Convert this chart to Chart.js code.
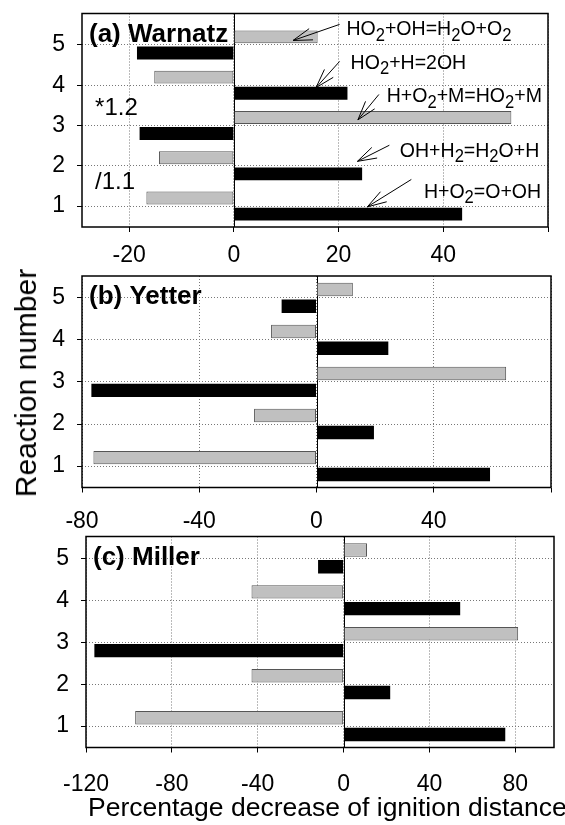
<!DOCTYPE html>
<html lang="en">
<head>
    <meta charset="UTF-8">
    <title>Reaction sensitivity</title>
    <script src="https://cdn.jsdelivr.net/npm/chart.js"></script>
    <style>
        body {
            margin: 0;
            padding: 0;
            background-color: #fff;
            font-family: 'Liberation Sans', Arial, sans-serif;
        }
        .page {
            position: relative;
            width: 565px;
            height: 825px;
            overflow: hidden;
        }
        .page canvas {
            position: absolute;
            left: 0;
        }
        .y-title {
            position: absolute;
            left: 26px;
            top: 383px;
            transform: translate(-50%, -50%) rotate(-90deg);
            font-size: 30px;
            white-space: nowrap;
            color: #000;
        }
        .x-title {
            position: absolute;
            left: 88px;
            top: 792px;
            font-size: 26.5px;
            white-space: nowrap;
            color: #000;
        }
    </style>
</head>
<body>
    <div class="page">
        <canvas id="chartA" width="565" height="268" style="top:0px"></canvas>
        <canvas id="chartB" width="565" height="275" style="top:262px"></canvas>
        <canvas id="chartC" width="565" height="270" style="top:522px"></canvas>
        <div class="y-title">Reaction number</div>
        <div class="x-title">Percentage decrease of ignition distance</div>
    </div>

    <script>
        // reaction numbers and the two series per mechanism (gray = upper bar, black = lower bar)
        const reactions = [1, 2, 3, 4, 5];
        const warnatzGray = [-16.7, -14.3, 53.0, -15.2, 16.0];
        const warnatzBlack = [43.6, 24.5, -18.0, 21.7, -18.5];
        const yetterGray = [-76.1, -21.3, 64.7, -15.5, 12.4];
        const yetterBlack = [59.2, 19.6, -76.8, 24.5, -11.9];
        const millerGray = [-97.1, -42.9, 81.3, -42.9, 10.9];
        const millerBlack = [75.3, 21.7, -116.1, 54.3, -11.9];

        // reaction labels in panel (a): text anchor and arrow, in data units
        const warnatzNotes = [
            { text: 'HO_2+OH=H_2O+O_2', x: 21.5, y: 5.24, from: [20.2, 5.51], to: [11.3, 5.11] },
            { text: 'HO_2+H=2OH', x: 22.3, y: 4.41, from: [20.2, 4.59], to: [15.7, 3.94] },
            { text: 'H+O_2+M=HO_2+M', x: 29.2, y: 3.58, from: [27.7, 3.77], to: [23.7, 3.14] },
            { text: 'OH+H_2=H_2O+H', x: 31.7, y: 2.22, from: [29.7, 2.51], to: [23.6, 2.11] },
            { text: 'H+O_2=O+OH', x: 36.3, y: 1.21, from: [33.9, 1.66], to: [25.5, 0.98] }
        ];
        const warnatzFactors = [
            { text: '*1.2', x: -26.5, y: 3.25 },
            { text: '/1.1', x: -26.5, y: 1.43 }
        ];

        const FONT = "'Liberation Sans', Arial, sans-serif";
        Chart.defaults.font.family = FONT;
        Chart.defaults.color = '#000';

        function drawRich(ctx, str, x, y, size, sx) {
            ctx.save();
            ctx.translate(x, y);
            ctx.scale(sx, 1);
            ctx.textBaseline = 'alphabetic';
            ctx.textAlign = 'left';
            let cx = 0;
            str.split(/(_\d)/).forEach(part => {
                if (!part) return;
                if (part[0] === '_') {
                    ctx.font = (size * 0.85) + 'px ' + FONT;
                    ctx.fillText(part.slice(1), cx, size * 0.26);
                    cx += ctx.measureText(part.slice(1)).width;
                } else {
                    ctx.font = size + 'px ' + FONT;
                    ctx.fillText(part, cx, 0);
                    cx += ctx.measureText(part).width;
                }
            });
            ctx.restore();
        }

        function drawArrow(ctx, x1, y1, x2, y2) {
            const ang = Math.atan2(y1 - y2, x1 - x2);
            const len = 20, spread = 0.3;
            ctx.beginPath();
            ctx.moveTo(x1, y1);
            ctx.lineTo(x2, y2);
            ctx.moveTo(x2 + len * Math.cos(ang - spread), y2 + len * Math.sin(ang - spread));
            ctx.lineTo(x2, y2);
            ctx.lineTo(x2 + len * Math.cos(ang + spread), y2 + len * Math.sin(ang + spread));
            ctx.stroke();
        }

        // zero line, frame, panel title and notes
        const panelDecor = {
            id: 'panelDecor',
            beforeDatasetsDraw(chart) {
                const { ctx, chartArea: a, scales: { x } } = chart;
                const x0 = Math.round(x.getPixelForValue(0)) + 0.5;
                ctx.save();
                ctx.strokeStyle = '#000';
                ctx.lineWidth = 1;
                ctx.beginPath();
                ctx.moveTo(x0, a.top);
                ctx.lineTo(x0, a.bottom);
                ctx.stroke();
                ctx.restore();
            },
            afterDatasetsDraw(chart, args, opts) {
                const { ctx, chartArea: a, scales: { x, y } } = chart;
                ctx.save();
                ctx.strokeStyle = '#000';
                ctx.lineWidth = 1.5;
                ctx.strokeRect(a.left, a.top, a.right - a.left, a.bottom - a.top);

                ctx.fillStyle = '#000';
                ctx.font = 'bold 26px ' + FONT;
                ctx.textBaseline = 'alphabetic';
                ctx.fillText(opts.title, a.left + 7, a.top + 28);

                (opts.factors || []).forEach(f => {
                    ctx.font = '24px ' + FONT;
                    ctx.fillText(f.text, x.getPixelForValue(f.x), y.getPixelForValue(f.y));
                });

                ctx.lineWidth = 1;
                (opts.notes || []).forEach(n => {
                    drawRich(ctx, n.text, x.getPixelForValue(n.x), y.getPixelForValue(n.y), 21, 0.93);
                    drawArrow(ctx,
                        x.getPixelForValue(n.from[0]), y.getPixelForValue(n.from[1]),
                        x.getPixelForValue(n.to[0]), y.getPixelForValue(n.to[1]));
                });
                ctx.restore();
            }
        };

        function makePanel(id, p) {
            return new Chart(document.getElementById(id), {
                type: 'bar',
                data: {
                    datasets: [{
                        data: reactions.map((r, i) => ({ x: p.gray[i], y: r })),
                        backgroundColor: '#c0c0c0',
                        borderColor: '#555',
                        borderWidth: 1,
                        borderSkipped: false
                    }, {
                        data: reactions.map((r, i) => ({ x: p.black[i], y: r })),
                        backgroundColor: '#000',
                        borderColor: '#000',
                        borderWidth: 0
                    }]
                },
                plugins: [panelDecor],
                options: {
                    indexAxis: 'y',
                    responsive: false,
                    animation: false,
                    barPercentage: 0.8,
                    categoryPercentage: 0.8,
                    layout: { padding: { top: p.padTop, right: p.padRight, left: 0, bottom: 0 } },
                    plugins: {
                        legend: { display: false },
                        tooltip: { enabled: false },
                        panelDecor: { title: p.title, notes: p.notes, factors: p.factors }
                    },
                    scales: {
                        x: {
                            type: 'linear',
                            min: p.xMin,
                            max: p.xMax,
                            afterFit: s => {
                                s.height = p.xHeight;
                                s.paddingLeft = 0;
                                s.paddingRight = 0;
                            },
                            ticks: {
                                stepSize: p.xStep,
                                includeBounds: false,
                                padding: p.xLabelPad,
                                font: { size: 23 },
                                color: '#000',
                                callback: v => (v > p.xLabelMax ? '' : v)
                            },
                            grid: { color: '#777', lineWidth: 1, tickLength: 5, tickColor: '#000', drawTicks: true },
                            border: { display: false, dash: [1, 2] }
                        },
                        y: {
                            type: 'linear',
                            min: p.yMin,
                            max: p.yMax,
                            offset: false,
                            afterFit: s => {
                                s.width = p.left;
                                s.paddingTop = 0;
                                s.paddingBottom = 0;
                            },
                            ticks: { stepSize: 1, includeBounds: false, padding: 12, font: { size: 23 }, color: '#000' },
                            grid: { offset: false, color: '#777', lineWidth: 1, tickLength: 5, tickColor: '#000', drawTicks: true },
                            border: { display: false, dash: [1, 2] }
                        }
                    }
                }
            });
        }

        makePanel('chartA', {
            title: '(a) Warnatz', gray: warnatzGray, black: warnatzBlack,
            notes: warnatzNotes, factors: warnatzFactors,
            xMin: -29, xMax: 60, xStep: 20, xLabelMax: 40, xLabelPad: 10,
            yMin: 0.48, yMax: 5.78,
            left: 82, padTop: 13.5, padRight: 17, xHeight: 41
        });
        makePanel('chartB', {
            title: '(b) Yetter', gray: yetterGray, black: yetterBlack,
            xMin: -80, xMax: 80, xStep: 40, xLabelMax: 40, xLabelPad: 15,
            yMin: 0.49, yMax: 5.52,
            left: 82, padTop: 14, padRight: 14, xHeight: 49.5
        });
        makePanel('chartC', {
            title: '(c) Miller', gray: millerGray, black: millerBlack,
            xMin: -120, xMax: 98, xStep: 40, xLabelMax: 80, xLabelPad: 18,
            yMin: 0.49, yMax: 5.52,
            left: 86, padTop: 14.5, padRight: 11, xHeight: 44.5
        });
    </script>
</body>
</html>
